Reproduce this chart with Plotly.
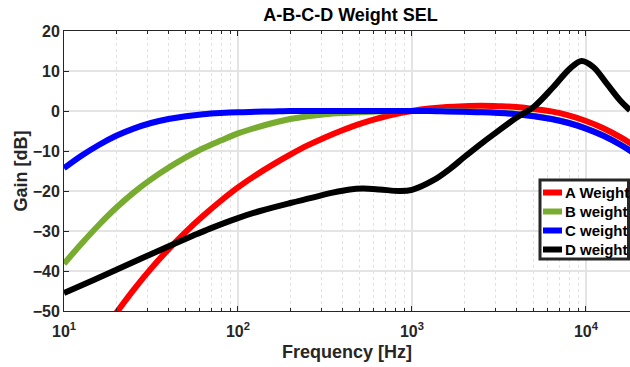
import plotly.graph_objects as go

# Third-octave band centre frequencies [Hz] (exact base-10 values)
freq_bands = [10, 12.59, 15.85, 19.95, 25.12, 31.62, 39.81, 50.12, 63.10, 79.43,
              100, 125.9, 158.5, 199.5, 251.2, 316.2, 398.1, 501.2, 631.0, 794.3,
              1000, 1259, 1585, 1995, 2512, 3162, 3981, 5012, 6310, 7943,
              10000, 12589, 15849, 19953]

# A / B / C weighting gains [dB] at the band frequencies
gain_a = [-70.4, -63.4, -56.7, -50.5, -44.7, -39.4, -34.6, -30.2, -26.2, -22.5, -19.1,
          -16.1, -13.4, -10.9, -8.6, -6.6, -4.8, -3.2, -1.9, -0.8, 0.0, 0.6, 1.0, 1.2,
          1.3, 1.2, 1.0, 0.5, -0.1, -1.1, -2.5, -4.3, -6.6, -9.3]
gain_b = [-38.2, -33.2, -28.5, -24.2, -20.4, -17.1, -14.2, -11.6, -9.3, -7.4, -5.6,
          -4.2, -3.0, -2.0, -1.3, -0.8, -0.5, -0.3, -0.1, 0.0, 0.0, 0.0, 0.0, -0.1,
          -0.2, -0.4, -0.7, -1.2, -1.9, -2.9, -4.3, -6.1, -8.4, -11.1]
gain_c = [-14.3, -11.2, -8.5, -6.2, -4.4, -3.0, -2.0, -1.3, -0.8, -0.5, -0.3, -0.2,
          -0.1, 0.0, 0.0, 0.0, 0.0, 0.0, 0.0, 0.0, 0.0, 0.0, -0.1, -0.2, -0.3, -0.5,
          -0.8, -1.3, -2.0, -3.0, -4.4, -6.2, -8.5, -11.2]

# D weighting curve
freq_d = [10, 14.7, 20, 28, 40.6, 55, 69, 98, 134, 200, 260, 350, 440, 520, 650, 850,
          1000, 1330, 1660, 2000, 2580, 3000, 4000, 5000, 6490, 8090, 9440, 11010,
          13140, 15670, 17900]
gain_d = [-45.5, -42.3, -39.7, -36.8, -33.7, -31.2, -29.4, -26.9, -25.0, -23.0, -21.8,
          -20.4, -19.6, -19.4, -19.6, -20.0, -19.7, -17.3, -14.4, -11.5, -7.7, -5.6,
          -1.6, 1.0, 6.0, 10.6, 12.5, 11.0, 6.9, 2.7, 0.2]

series_names = ["A Weight", "B weight", "C weight", "D weight"]
series_colors = ["#ff0000", "#77ac30", "#0000ff", "#000000"]

x_major = [10, 100, 1000, 10000]
x_major_text = ["10<sup>1</sup>", "10<sup>2</sup>", "10<sup>3</sup>", "10<sup>4</sup>"]
x_minor = [m * d for d in (10, 100, 1000, 10000) for m in range(2, 10)]
y_ticks = [20, 10, 0, -10, -20, -30, -40, -50]

W, H = 630, 367
L, R, T, B = 64, 0, 31, 56
PW, PH = W - L - R, H - T - B

fig = go.Figure()
series = [(freq_bands, gain_a), (freq_bands, gain_b), (freq_bands, gain_c), (freq_d, gain_d)]
for (fx, gy), name, col in zip(series, series_names, series_colors):
    fig.add_trace(go.Scatter(x=fx, y=gy, mode="lines", name=name, showlegend=False,
                             line=dict(color=col, width=6, shape="spline", smoothing=1.0)))

FONT = "Liberation Sans, Arial, sans-serif"
AX = "#262626"

fig.update_layout(
    width=W, height=H,
    margin=dict(l=L, r=R, t=T, b=B, pad=0),
    paper_bgcolor="white", plot_bgcolor="white",
    font=dict(family=FONT, color=AX, size=16, weight="bold"),
    title=dict(text="A-B-C-D Weight SEL",
               font=dict(size=18, color="black", weight="bold"),
               x=350.5 / W, xref="container", xanchor="center",
               y=1 - 15 / H, yanchor="middle"),
    xaxis=dict(
        type="log", range=[1, 4.253],
        tickmode="array", tickvals=x_major, ticktext=x_major_text,
        ticks="inside", ticklen=5, tickcolor=AX, tickwidth=1,
        ticklabelstandoff=6,
        showline=True, linecolor=AX, linewidth=1, mirror="ticks",
        showgrid=True, gridcolor="#e4e4e4", gridwidth=1.5,
        tickfont=dict(size=16, color=AX, weight="bold"),
        minor=dict(tickvals=x_minor, ticks="inside", ticklen=3, tickcolor=AX,
                   showgrid=True, gridcolor="#e2e2e2", griddash="dot", gridwidth=1),
        title=dict(text="Frequency [Hz]", font=dict(size=18, color=AX, weight="bold"),
                   standoff=6),
        zeroline=False,
    ),
    yaxis=dict(
        range=[-50, 20], tickmode="array", tickvals=y_ticks,
        ticks="inside", ticklen=5, tickcolor=AX, tickwidth=1,
        showline=True, linecolor=AX, linewidth=1,
        showgrid=True, gridcolor="#e4e4e4", gridwidth=1.5,
        tickfont=dict(size=16, color=AX, weight="bold"),
        title=dict(text="Gain [dB]", font=dict(size=18, color=AX, weight="bold"),
                   standoff=0),
        zeroline=False,
    ),
)

# Legend box drawn in pixel positions converted to paper coordinates
def px(xp):
    return (xp - L) / PW

def py(yp):
    return (T + PH - yp) / PH

fig.add_shape(type="rect", xref="paper", yref="paper",
              x0=px(540), x1=px(628.5), y0=py(259), y1=py(180),
              line=dict(color=AX, width=3), fillcolor="white", layer="above")
row_y = [192.5, 211.5, 230.5, 249.5]
for name, col, ry in zip(series_names, series_colors, row_y):
    fig.add_shape(type="line", xref="paper", yref="paper",
                  x0=px(543), x1=px(562), y0=py(ry), y1=py(ry),
                  line=dict(color=col, width=6), layer="above")
    fig.add_annotation(xref="paper", yref="paper", x=px(563), y=py(ry),
                       xanchor="left", yanchor="middle", showarrow=False,
                       text=name, font=dict(size=15, color="black", family=FONT,
                                            weight="bold"))

fig.write_html("out.html")
